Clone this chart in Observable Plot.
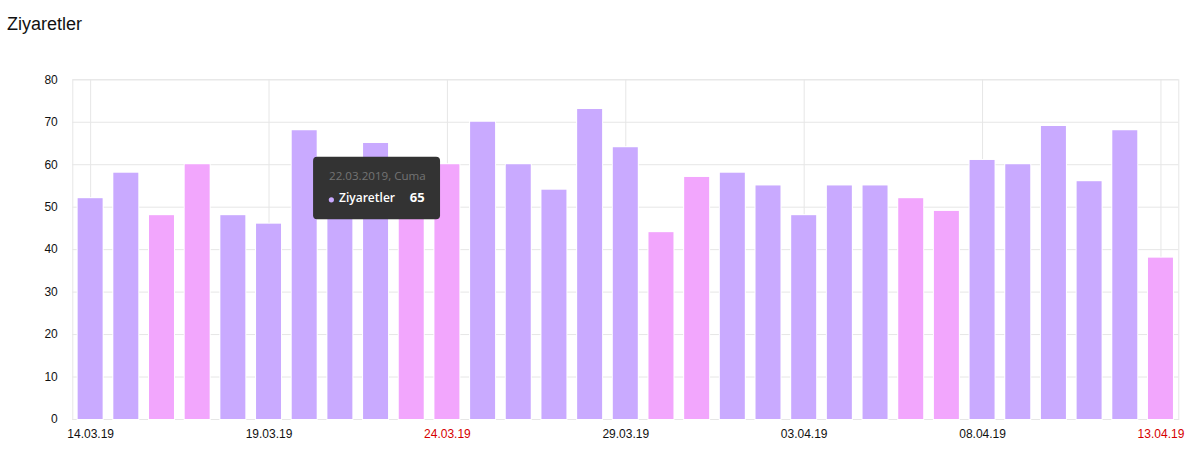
<!DOCTYPE html>
<html>
<head>
<meta charset="utf-8">
<script src="https://cdn.jsdelivr.net/npm/d3@7"></script>
<script src="https://cdn.jsdelivr.net/npm/@observablehq/plot@0.6"></script>
<style>
  html, body { margin: 0; padding: 0; background: #fff; overflow: hidden; }
  #title { height: 45px; position: relative; }
  #title span { position: absolute; left: 7px; top: 14px; font: 18px "Liberation Sans", Arial, sans-serif; color: #111; line-height: 20px; }
  #chart svg { display: block; }
</style>
</head>
<body>
<div id="title"><span>Ziyaretler</span></div>
<div id="chart"></div>
<script>
const dates = ["14.03.19","15.03.19","16.03.19","17.03.19","18.03.19","19.03.19","20.03.19","21.03.19","22.03.19","23.03.19",
  "24.03.19","25.03.19","26.03.19","27.03.19","28.03.19","29.03.19","30.03.19","31.03.19","01.04.19","02.04.19",
  "03.04.19","04.04.19","05.04.19","06.04.19","07.04.19","08.04.19","09.04.19","10.04.19","11.04.19","12.04.19","13.04.19"];
const visits = [52,58,48,60,48,46,68,55,65,56,60,70,60,54,73,64,44,57,58,55,48,55,55,52,49,61,60,69,56,68,38];
const xTickLabels = ["14.03.19","19.03.19","24.03.19","29.03.19","03.04.19","08.04.19","13.04.19"];
const yTicks = [0,10,20,30,40,50,60,70,80];
const seriesName = "Ziyaretler";
const tipDate = "22.03.19";
const tipTitle = "22.03.2019, Cuma";

const weekdayPurple = "#c9aaff";
const weekendPink = "#f2a6fd";
const gridColor = "#e6e6e6";

function isWeekend(s) {
  const [d, m, y] = s.split(".").map(Number);
  const wd = new Date(2000 + y, m - 1, d).getDay();
  return wd === 0 || wd === 6;
}

const data = dates.map((date, i) => ({date, value: visits[i], color: isWeekend(date) ? weekendPink : weekdayPurple}));
const ticks = xTickLabels.map(date => ({date, color: isWeekend(date) ? "#d60000" : "#111"}));
const tip = [{date: tipDate, value: visits[dates.indexOf(tipDate)], title: tipTitle, name: seriesName}];

const chart = Plot.plot({
  width: 1201,
  height: 428,
  marginTop: 34.3,
  marginBottom: 54,
  marginLeft: 72.3,
  marginRight: 22.7,
  style: {fontFamily: "'Liberation Sans', Arial, sans-serif", fontSize: "12px", color: "#111", background: "#fff"},
  x: {type: "band", domain: dates, paddingInner: 0.3, paddingOuter: 0.15, round: false, axis: null},
  y: {domain: [0, 80], axis: null},
  color: {type: "identity"},
  marks: [
    Plot.gridY(yTicks, {stroke: gridColor, strokeOpacity: 1}),
    Plot.gridX(xTickLabels, {stroke: gridColor, strokeOpacity: 1}),
    Plot.frame({stroke: gridColor}),
    Plot.barY(data, {x: "date", y: "value", fill: "color", stroke: "#fff", strokeWidth: 2, paintOrder: "stroke"}),
    Plot.axisY(yTicks, {tickSize: 0, tickPadding: 15, fontSize: 12, fill: "#111", label: null}),
    Plot.text(ticks, {x: "date", frameAnchor: "bottom", lineAnchor: "top", dy: 10, text: "date", fill: "color", fontSize: 12}),
    // tooltip
    Plot.barY(tip, {x: "date", y1: "value", y2: "value", fill: "#333333", insetLeft: -50, insetRight: -52, insetTop: 13.7, insetBottom: -76.3, rx: 4}),
    Plot.text(tip, {x: "date", y: "value", text: "title", textAnchor: "start", dx: -47, dy: 32.5, lineAnchor: "middle", fill: "#737373", fontSize: 11.6, fontFamily: "'Open Sans', sans-serif"}),
    Plot.dot(tip, {x: "date", y: "value", r: 2.6, fill: weekdayPurple, stroke: "none", dx: -44.7, dy: 56.3}),
    Plot.text(tip, {x: "date", y: "value", text: "name", textAnchor: "start", dx: -37, dy: 54.5, lineAnchor: "middle", fill: "#ffffff", fontSize: 12, fontWeight: 600, fontFamily: "'Open Sans', sans-serif"}),
    Plot.text(tip, {x: "date", y: "value", text: d => String(d.value), textAnchor: "end", dx: 48.6, dy: 54.5, lineAnchor: "middle", fill: "#ffffff", fontSize: 13, fontWeight: 700, fontFamily: "'Open Sans', sans-serif"})
  ]
});
document.getElementById("chart").appendChild(chart);
</script>
</body>
</html>
